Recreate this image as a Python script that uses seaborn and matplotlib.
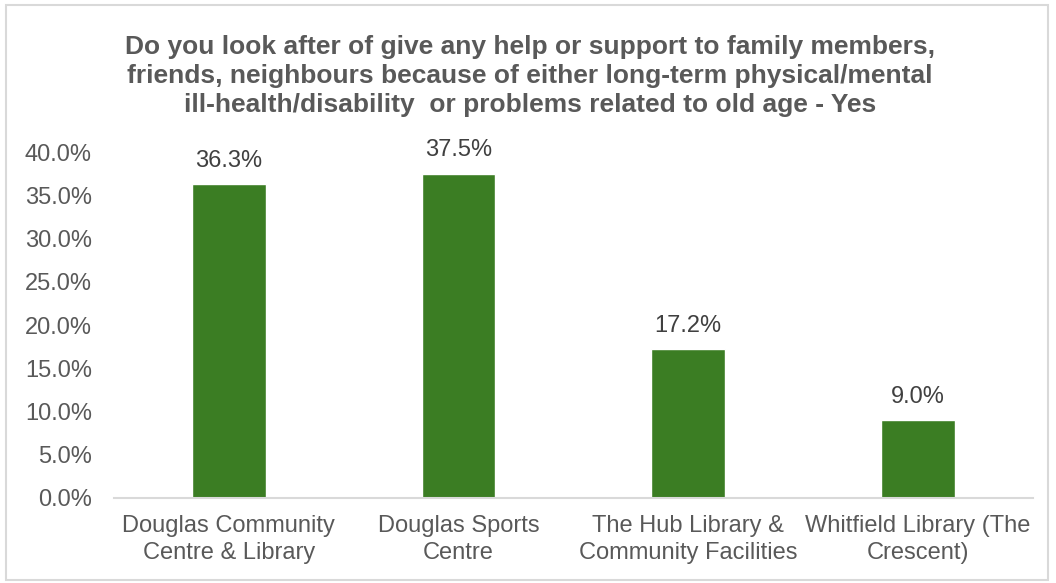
import matplotlib
matplotlib.use("Agg")
import matplotlib.pyplot as plt
import seaborn as sns
import pandas as pd
from matplotlib.patches import Rectangle

categories = ["Douglas Community\nCentre & Library", "Douglas Sports\nCentre",
              "The Hub Library &\nCommunity Facilities", "Whitfield Library (The\nCrescent)"]
values = [36.3, 37.5, 17.2, 9.0]
yticks = [0, 5, 10, 15, 20, 25, 30, 35, 40]
title = ("Do you look after of give any help or support to family members,\n"
         "friends, neighbours because of either long-term physical/mental\n"
         "ill-health/disability  or problems related to old age - Yes")

sns.set_theme(style="white")
plt.rcParams['font.family'] = ['Liberation Sans', 'DejaVu Sans']

df = pd.DataFrame({"cat": categories, "val": values})
fig = plt.figure(figsize=(10.56, 5.83), dpi=100)
ax = fig.add_axes([0.108, 0.1458, 0.870, 0.593])
sns.barplot(data=df, x="cat", y="val", color="#3b7d23", width=0.32, ax=ax, saturation=1)
ax.set_xlim(-0.5, 3.5)
ax.set_ylim(0, 40)
ax.set_yticks(yticks)
ax.set_yticklabels([f"{v:.1f}%" for v in yticks], fontsize=17, color="#595959")
ax.set_xticklabels(categories, fontsize=17, color="#595959", linespacing=1.3)
ax.set_xlabel("")
ax.set_ylabel("")
ax.tick_params(axis="both", length=0)
ax.tick_params(axis="x", pad=12)
ax.tick_params(axis="y", pad=16)
for s in ["top", "right", "left"]:
    ax.spines[s].set_visible(False)
ax.spines["bottom"].set_color("#d9d9d9")
ax.spines["bottom"].set_linewidth(1.5)
for c in ax.containers:
    ax.bar_label(c, labels=[f"{v:.1f}%" for v in values], padding=9, fontsize=17, color="#404040")
fig.text(0.502, 0.800, title, ha="center", va="bottom", fontsize=19, fontweight="bold",
         color="#595959", linespacing=1.25)
fig.patches.append(Rectangle((6/1056, 3/583), 1042/1056, 575/583, transform=fig.transFigure,
                             fill=False, edgecolor="#d9d9d9", linewidth=1.5))
fig.savefig("out.png", dpi=100)
